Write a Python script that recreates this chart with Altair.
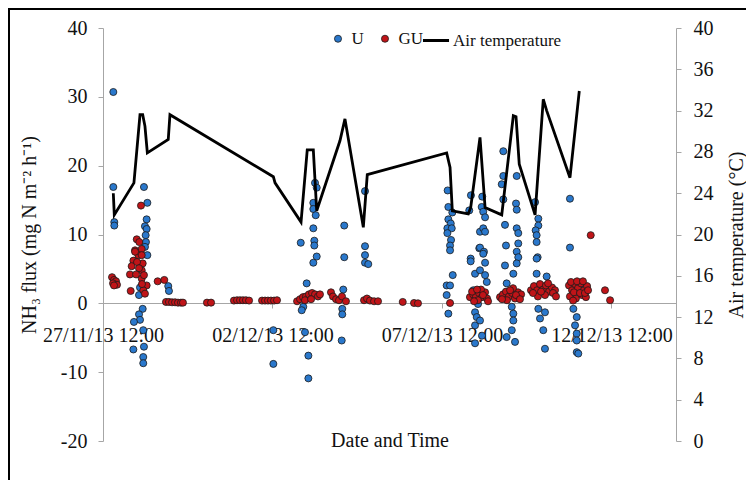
import altair as alt
import pandas as pd

START = pd.Timestamp("2013-11-27 12:00")
END = pd.Timestamp("2013-12-14 09:40")

# U series: hours after 27/11/13 12:00, NH3 flux
u_hours = [7.3, 7.3, 8.0, 8.0,
           29.0, 31.4, 30.9, 29.7, 30.9, 30.2, 30.4, 29.7, 31.4, 26.2, 25.5, 28.1, 25.5, 26.2, 21.9, 28.5,
           21.5, 29.0, 28.5, 28.5, 46.2, 46.7,
           120.6, 120.6,
           140.0, 150.1, 151.3, 148.9, 148.9, 150.6, 148.9, 149.6, 149.6, 151.3, 148.9, 144.2, 141.8, 140.7,
           143.0, 145.4, 145.4,
           170.8, 170.8, 170.1, 169.4, 169.4, 169.0,
           185.5, 185.5, 185.5, 185.5, 187.8,
           244.0, 244.5, 247.3, 244.5, 246.2, 243.8, 246.9, 243.8, 246.4, 245.7, 245.7, 247.6, 243.3, 245.7,
           243.3, 244.5,
           260.5, 259.3, 266.9, 266.4, 260.3, 260.3, 263.4, 268.5, 268.1, 269.2, 270.5, 269.2, 270.5, 266.9,
           269.7, 269.2, 270.5, 266.9, 270.5, 271.7, 262.2, 263.4, 264.6, 263.4, 263.4, 265.5, 266.9, 268.3,
           283.4, 283.4, 282.3, 283.4, 284.6, 285.3, 284.6, 285.8, 289.4, 290.5, 290.5, 289.4, 285.8, 291.7,
           292.9, 292.4, 292.9, 292.9, 294.0, 294.0, 292.9, 294.0, 292.9, 290.5,
           305.9, 308.2, 308.2, 306.3, 307.0, 307.0, 307.7, 307.0, 307.0, 314.1, 308.2, 312.9, 309.4, 311.7,
           312.9,
           330.6, 330.6, 333.0, 335.4, 334.2, 335.4, 335.4, 335.4, 336.5, 337.0, 339.1]
u_flux = [30.7, 16.9, 11.8, 11.3,
          16.9, 14.6, 12.2, 11.2, 10.8, 9.9, 8.9, 8.2, 7.0, 2.3, 1.2, -0.8, -1.6, -2.4, -2.7, -3.9,
          -6.7, -6.3, -7.8, -8.7, 2.5, 1.8,
          -3.9, -8.8,
          8.8, 17.5, 16.8, 14.6, 13.7, 12.8, 10.9, 9.1, 8.4, 6.8, 5.9, 2.9, -0.5, -1.0,
          -4.2, -7.6, -10.9,
          11.3, 6.7, 2.0, -0.8, -1.6, -5.4,
          16.3, 8.3, 7.0, 5.9, 5.7,
          16.4, 14.0, 13.2, 12.2, 11.6, 10.9, 10.9, 10.2, 9.2, 8.4, 7.7, 4.1, 2.6, 2.6,
          1.2, -1.5,
          15.7, 13.5, 10.4, 8.0, 6.5, 6.1, 4.3, 15.5, 14.0, 13.3, 12.5, 10.9, 10.4, 8.1,
          7.5, 7.2, 5.9, 4.8, 4.1, 3.1, 1.9, -1.3, -2.0, -3.2, -5.8, -0.1, -2.5, -4.7,
          22.1, 18.5, 17.3, 15.1, 11.4, 8.4, 5.5, 2.9, -0.5, -1.5, -2.5, -3.9, -4.9, -5.6,
          18.5, 14.5, 13.6, 10.9, 10.2, 8.7, 7.5, 6.7, 5.8, 4.3,
          14.7, 12.3, 11.3, 10.6, 9.9, 8.9, 6.7, 6.5, 4.3, 3.9, -0.8, -1.3, -2.2, -3.9,
          -6.6,
          15.2, 8.1, -0.8, -2.0, -3.2, -4.4, -5.4, -7.1, -7.3, 2.9, 2.3]

# GU series
gu_hours = [6.4, 7.8, 9.2, 7.1, 9.9, 7.8,
            26.9, 23.9, 25.7, 22.7, 27.4, 25.0, 22.7, 21.5, 27.4, 28.1, 20.3, 19.1, 27.4, 27.4, 30.9, 19.6,
            28.5, 29.7, 24.1, 25.5, 23.4, 27.6, 29.0, 38.7, 43.4,
            44.6, 46.7, 48.9, 51.0, 53.1, 55.2, 56.6, 73.6, 76.5,
            92.7, 94.9, 97.0, 99.1, 101.2, 103.4,
            112.6, 114.7, 116.8, 118.9, 121.1, 123.2,
            137.4, 139.5, 141.6, 143.7, 145.8, 148.0, 150.1, 152.2, 153.6, 143.0, 147.3,
            161.4, 162.8, 165.0, 167.1, 169.2, 172.0,
            184.8, 186.9, 189.0, 191.9, 194.7, 212.2, 220.2, 223.0,
            245.7,
            259.8, 262.0, 264.1, 266.2, 268.3, 270.5, 271.9, 265.5, 262.7, 267.6,
            261.3, 264.8, 269.0, 272.6,
            281.1, 283.2, 285.3, 287.4, 289.6, 291.7, 293.8, 296.0, 286.0, 290.3,
            282.5, 288.2, 292.4, 295.2,
            303.0, 305.1, 307.3, 309.4, 311.5, 313.6, 315.8, 317.9, 320.0, 312.9, 307.9,
            304.4, 310.1, 315.1, 318.6, 320.7,
            329.9, 332.1, 334.2, 336.3, 338.4, 340.5, 342.7, 330.6, 334.8, 339.1, 341.9, 333.4, 337.7,
            331.3, 335.6, 339.8, 341.2, 332.8, 343.4,
            345.3, 355.4, 359.0]
gu_flux = [3.8, 3.4, 3.2, 2.9, 2.7, 2.6,
           14.2, 9.3, 8.9, 7.7, 7.9, 7.0, 7.5, 6.2, 7.0, 5.8, 5.4, 4.2, 4.8, 3.6, 2.6, 1.8,
           1.9, 1.4, 6.0, 5.1, 4.2, 2.8, 4.1, 3.2, 3.4,
           0.2, 0.2, 0.15, 0.15, 0.1, 0.1, 0.1, 0.1, 0.1,
           0.4, 0.45, 0.45, 0.45, 0.45, 0.4,
           0.4, 0.4, 0.4, 0.4, 0.4, 0.45,
           0.3, 0.6, 0.9, 1.0, 1.3, 1.5, 1.3, 1.0, 1.3, 0.45, 0.6,
           1.6, 1.0, 0.6, 0.45, 1.0, 0.3,
           0.45, 0.7, 0.4, 0.3, 0.3, 0.2, 0.05, 0.0,
           0.05,
           0.9, 1.3, 1.0, 1.5, 0.9, 1.6, 0.7, 0.45, 0.3, 2.0,
           1.7, 2.0, 1.2, 0.3,
           0.9, 1.3, 1.7, 1.0, 1.5, 0.7, 1.6, 1.3, 0.45, 2.2,
           0.6, 1.9, 1.2, 0.6,
           1.9, 2.5, 1.9, 2.8, 2.0, 2.6, 1.7, 2.3, 1.9, 1.2, 1.0,
           1.5, 1.7, 2.9, 1.5, 1.0,
           2.6, 1.9, 2.8, 2.2, 2.9, 1.9, 2.5, 1.0, 0.7, 1.2, 0.9, 1.6, 1.5,
           3.1, 3.2, 3.2, 1.5, 0.4, 1.9,
           9.9, 1.9, 0.45]

# Air temperature line
temp_hours = [7.3, 8.0, 21.9, 26.2, 28.1, 29.7, 31.4, 46.2, 47.4, 120.6, 121.8, 140.2, 144.6, 148.9,
              151.3, 167.8, 171.3, 184.3, 187.1, 243.3, 245.7, 247.3, 258.6, 260.3, 266.9, 270.5,
              282.3, 290.5, 292.4, 294.7, 305.9, 311.7, 314.1, 330.6, 337.2]
temp_c = [24.0, 21.9, 25.0, 31.6, 31.6, 30.5, 27.9, 29.2, 31.6, 25.6, 25.0, 21.2, 28.2, 28.2,
          22.3, 29.1, 31.2, 20.7, 25.8, 27.9, 26.5, 22.3, 22.0, 22.6, 29.4, 22.6,
          21.9, 31.5, 31.4, 26.8, 21.9, 33.1, 32.0, 25.5, 33.9]

flux_series = ["U", "GU"]
flux_colors = ["#2A78CC", "#C01418"]
temp_series = ["Air temperature"]
x_tick_dates = ["2013-11-27 12:00", "2013-12-02 12:00", "2013-12-07 12:00", "2013-12-12 12:00"]
flux_ticks = [-20, -10, 0, 10, 20, 30, 40]
temp_ticks = [0, 4, 8, 12, 16, 20, 24, 28, 32, 36, 40]


def dt(ts):
    ts = pd.Timestamp(ts)
    return alt.DateTime(year=ts.year, month=ts.month, date=ts.day, hours=ts.hour, minutes=ts.minute)


flux_df = pd.concat([
    pd.DataFrame({"time": START + pd.to_timedelta(u_hours, unit="h"), "flux": u_flux, "series": "U"}),
    pd.DataFrame({"time": START + pd.to_timedelta(gu_hours, unit="h"), "flux": gu_flux, "series": "GU"}),
], ignore_index=True)
temp_df = pd.DataFrame({"time": START + pd.to_timedelta(temp_hours, unit="h"), "temp": temp_c,
                        "series": temp_series[0]})

FONT = "Liberation Serif"
W, H = 573, 413
PAD = {"left": 95, "top": 20, "right": 70, "bottom": 39}

x_scale = alt.Scale(domain=[dt(START), dt(END)])

pt_legend = alt.Legend(orient="none", legendX=226.5, legendY=2, direction="horizontal", columns=2,
                       title=None, labelFont=FONT, labelFontSize=17, labelColor="#111111",
                       symbolSize=50, symbolStrokeColor="#1a1a1a", symbolStrokeWidth=0.8,
                       columnPadding=12, labelOffset=5, padding=0)

line_legend = alt.Legend(orient="none", legendX=318, legendY=-2.5, direction="horizontal",
                         title=None, labelFont=FONT, labelFontSize=17, labelColor="#111111",
                         symbolType="stroke", symbolSize=680, symbolStrokeWidth=3,
                         labelOffset=2, padding=0)

points = alt.Chart(flux_df).mark_point(
    filled=True, size=50, stroke="#1a1a1a", strokeWidth=0.8, opacity=1
).encode(
    x=alt.X("time:T", scale=x_scale,
            axis=alt.Axis(values=[dt(v) for v in x_tick_dates], format="%d/%m/%y %H:%M",
                          offset=-138, title="Date and Time", titleY=137, titleBaseline="middle",
                          labelPadding=17, labelBaseline="top", tickSize=5, labelFlush=False,
                          labelOverlap=False)),
    y=alt.Y("flux:Q", scale=alt.Scale(domain=[-20, 40], nice=False),
            axis=alt.Axis(values=flux_ticks, title="NH₃ flux (mg N m⁻² h⁻¹)", tickSize=5,
                          labelPadding=11, titlePadding=21, labelExpr="'' + datum.value")),
    color=alt.Color("series:N", scale=alt.Scale(domain=flux_series, range=flux_colors), legend=pt_legend),
)

line = alt.Chart(temp_df).mark_line(strokeWidth=2.8).encode(
    x=alt.X("time:T", scale=x_scale),
    y=alt.Y("temp:Q", scale=alt.Scale(domain=[0, 40], nice=False),
            axis=alt.Axis(orient="right", values=temp_ticks, title="Air temperature (°C)",
                          tickSize=5, labelPadding=12, titlePadding=13, titleAngle=270,
                          titleBaseline="top")),
    stroke=alt.Stroke("series:N", scale=alt.Scale(domain=temp_series, range=["#000000"]),
                      legend=line_legend),
)

frame_df = pd.DataFrame({"k": [0]})
frame_left = alt.Chart(frame_df).mark_rule(color="black", strokeWidth=2).encode(
    x=alt.value(-94), y=alt.value(-19), y2=alt.value(H + PAD["bottom"]))
frame_top = alt.Chart(frame_df).mark_rule(color="black", strokeWidth=2).encode(
    x=alt.value(-95), x2=alt.value(W + PAD["right"]), y=alt.value(-19))

chart = alt.layer(points, line, frame_left, frame_top).resolve_scale(
    y="independent"
).properties(
    width=W, height=H, autosize=alt.AutoSizeParams(type="none"), padding=PAD
).configure_view(stroke="transparent").configure_axis(
    grid=False, labelFont=FONT, labelFontSize=20, labelColor="#111111",
    titleFont=FONT, titleFontSize=20, titleFontWeight="normal", titleColor="#111111",
    domainColor="#a6a6a6", tickColor="#a6a6a6"
)

chart.save("out.html", embed_options={"renderer": "svg", "actions": False})
